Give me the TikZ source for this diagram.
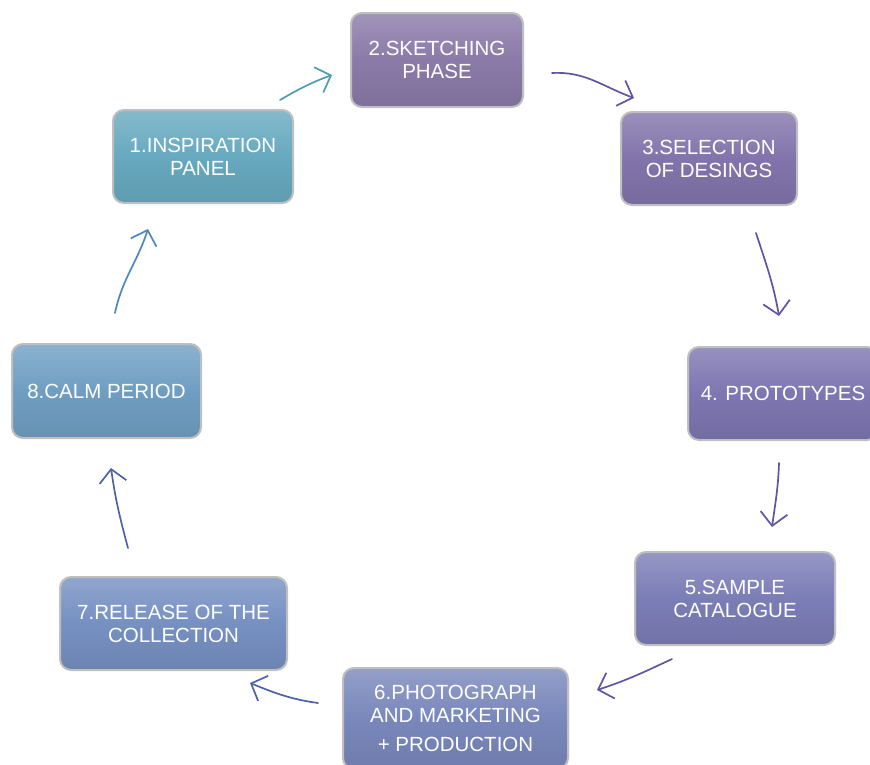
\documentclass[tikz,border=0pt]{standalone}
\usepackage{fontspec}
\setmainfont{Liberation Sans}
\usetikzlibrary{arrows.meta}
\definecolor{cA}{HTML}{67A9BF}
\definecolor{cB}{HTML}{8A7AA8}
\definecolor{cC}{HTML}{8274AB}
\definecolor{cD}{HTML}{7D76B1}
\definecolor{cE}{HTML}{7B7DB6}
\definecolor{cF}{HTML}{7987BB}
\definecolor{cG}{HTML}{7690C2}
\definecolor{cH}{HTML}{6F9EC2}
\definecolor{arrT}{HTML}{4E9DAE}
\definecolor{arrP}{HTML}{5F56A3}
\definecolor{arrB}{HTML}{4D62A8}
\definecolor{arrL}{HTML}{4F86BE}
\tikzset{
  phase/.style={rounded corners=11pt, draw=gray!50, line width=2pt,
    top color=#1!80!white, bottom color=#1!92!black, middle color=#1,
    text=white, align=center, inner sep=0pt,
    font=\fontsize{20.5}{23}\selectfont},
  flow/.style={line width=1.7pt, line cap=round,
    -{Straight Barb[length=13pt,width=27pt]}}
}
\begin{document}
\begin{tikzpicture}[x=1pt,y=-1pt]
\useasboundingbox (0,0) rectangle (870,764);
\clip (0,0) rectangle (870,764);
\node[phase=cA, minimum width=180pt, minimum height=93pt] (n1) at (203,156.5) {1.INSPIRATION\\PANEL};
\node[phase=cB, minimum width=172pt, minimum height=94pt] (n2) at (437,60) {2.SKETCHING\\PHASE};
\node[phase=cC, minimum width=176pt, minimum height=93pt] (n3) at (709,158.5) {3.SELECTION\\OF DESINGS};
\node[phase=cD, minimum width=190pt, minimum height=93pt] (n4) at (783,393.5) {4. PROTOTYPES};
\node[phase=cE, minimum width=200pt, minimum height=93pt] (n5) at (735,598.5) {5.SAMPLE\\CATALOGUE};
\node[phase=cF, minimum width=225pt, minimum height=101pt] (n6) at (455.5,718.5) {6.PHOTOGRAPH\\AND MARKETING\\[6pt]+ PRODUCTION};
\node[phase=cG, minimum width=227pt, minimum height=93pt] (n7) at (173.5,623.5) {7.RELEASE OF THE\\COLLECTION};
\node[phase=cH, minimum width=189pt, minimum height=94pt] (n8) at (106.5,391) {8.CALM PERIOD};

\coordinate (a1s) at (280,100); \coordinate (a1e) at (332,75);
\coordinate (a2s) at (552,73);  \coordinate (a2e) at (634,98);
\coordinate (a3s) at (756,233); \coordinate (a3e) at (779,316);
\coordinate (a4s) at (779,463); \coordinate (a4e) at (772,527);
\coordinate (a5s) at (672,659); \coordinate (a5e) at (597,690);
\coordinate (a6s) at (318,703); \coordinate (a6e) at (250,683);
\coordinate (a7s) at (128,548); \coordinate (a7e) at (111,468);
\coordinate (a8s) at (115,313); \coordinate (a8e) at (148,229);

\draw[flow, arrT] (a1s) to[out=30,in=-160] (a1e);
\draw[flow, arrP] (a2s) to[out=3,in=160] (a2e);
\draw[flow, arrP] (a3s) to[out=-72,in=100] (a3e);
\draw[flow, arrP] (a4s) to[out=-92,in=82] (a4e);
\draw[flow, arrP] (a5s) to[out=-155,in=18] (a5e);
\draw[flow, arrB] (a6s) to[out=172,in=-22] (a6e);
\draw[flow, arrB] (a7s) to[out=105,in=-82] (a7e);
\draw[flow, arrL] (a8s) to[out=78,in=-108] (a8e);
\end{tikzpicture}
\end{document}
